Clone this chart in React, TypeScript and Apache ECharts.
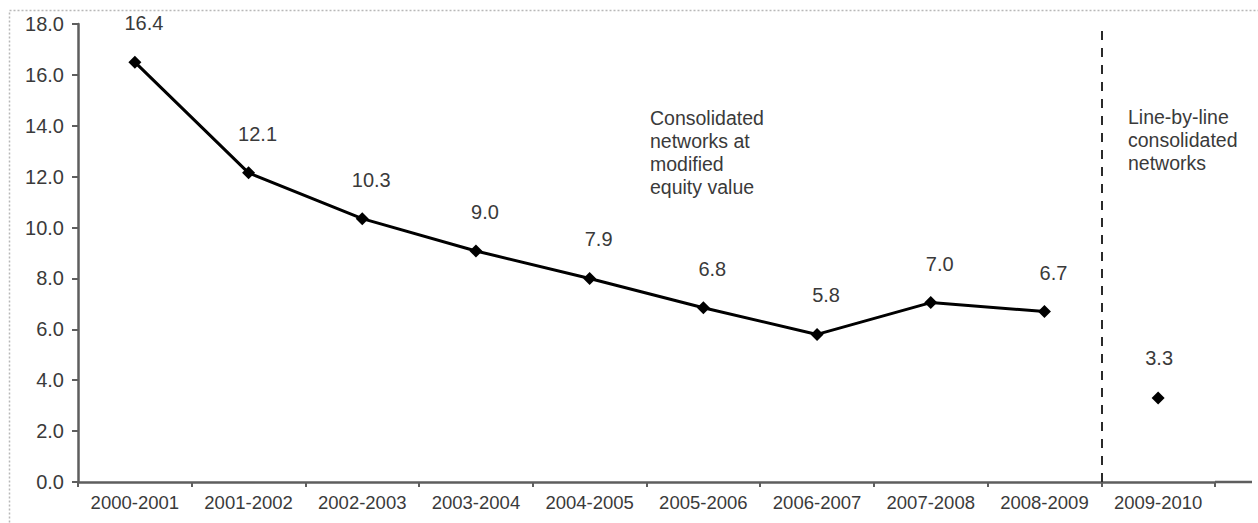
import React, { useEffect, useRef } from "react";
import * as echarts from "echarts";

const categories = [
  "2000-2001", "2001-2002", "2002-2003", "2003-2004", "2004-2005",
  "2005-2006", "2006-2007", "2007-2008", "2008-2009", "2009-2010",
];
const consolidatedValues = [16.5, 12.15, 10.35, 9.08, 8.0, 6.85, 5.8, 7.05, 6.7];
const consolidatedLabels = ["16.4", "12.1", "10.3", "9.0", "7.9", "6.8", "5.8", "7.0", "6.7"];
const lineByLineValue = 3.3;
const lineByLineLabel = "3.3";
const yTicks = { min: 0, max: 18, interval: 2 };
const separatorPosition = 9;
const annotationLeft = "Consolidated\nnetworks at\nmodified\nequity value";
const annotationRight = "Line-by-line\nconsolidated\nnetworks";

const FONT = "Liberation Sans, Arial, sans-serif";
const TEXT = "#3a3a3a";
const AXIS = "#5e5e5e";

export default function App() {
  const ref = useRef<HTMLDivElement>(null);
  useEffect(() => {
    if (!ref.current) return;
    const chart = echarts.init(ref.current, null, { renderer: "svg" });
    const mainData = categories.map((_, i) =>
      i < consolidatedValues.length ? consolidatedValues[i] : "-"
    );
    const lastData = categories.map((_, i) => (i === categories.length - 1 ? lineByLineValue : "-"));
    chart.setOption({
      animation: false,
      backgroundColor: "#ffffff",
      textStyle: { fontFamily: FONT },
      grid: { left: 78, right: 43, top: 24, bottom: 41, containLabel: false },
      xAxis: [
        {
          type: "category",
          data: categories,
          boundaryGap: true,
          axisLine: { lineStyle: { color: AXIS, width: 2.5 } },
          axisTick: { show: true, length: 5, interval: 0, lineStyle: { color: AXIS, width: 2 } },
          axisLabel: { interval: 0, color: TEXT, fontSize: 18.5, fontFamily: FONT, margin: 11 },
          splitLine: { show: false },
        },
        {
          type: "value",
          min: 0,
          max: categories.length,
          show: false,
          gridIndex: 0,
        },
      ],
      yAxis: {
        type: "value",
        min: yTicks.min,
        max: yTicks.max,
        interval: yTicks.interval,
        axisLine: { show: true, lineStyle: { color: AXIS, width: 2.5 } },
        axisTick: { show: true, length: 6, lineStyle: { color: AXIS, width: 2 } },
        axisLabel: {
          color: TEXT,
          fontSize: 20,
          fontFamily: FONT,
          margin: 14,
          formatter: (v: number) => v.toFixed(1),
        },
        splitLine: { show: false },
      },
      series: [
        {
          type: "line",
          data: mainData,
          xAxisIndex: 0,
          lineStyle: { color: "#000000", width: 3 },
          itemStyle: { color: "#000000" },
          symbol: "diamond",
          symbolSize: 13,
          showAllSymbol: true,
          label: {
            show: true,
            position: "inside",
            offset: [9, -39],
            color: TEXT,
            fontSize: 20,
            fontFamily: FONT,
            formatter: (p: any) => consolidatedLabels[p.dataIndex],
          },
        },
        {
          type: "line",
          data: lastData,
          xAxisIndex: 0,
          lineStyle: { width: 0 },
          itemStyle: { color: "#000000" },
          symbol: "diamond",
          symbolSize: 13,
          label: {
            show: true,
            position: "inside",
            offset: [1, -40],
            color: TEXT,
            fontSize: 20,
            fontFamily: FONT,
            formatter: () => lineByLineLabel,
          },
        },
        {
          type: "line",
          data: [],
          xAxisIndex: 1,
          markLine: {
            silent: true,
            symbol: ["none", "none"],
            label: { show: false },
            lineStyle: { color: "#2a2a2a", width: 2, type: [9, 8] },
            data: [[{ coord: [separatorPosition, 0] }, { coord: [separatorPosition, 17.8] }]],
          },
        },
      ],
      graphic: [
        {
          type: "rect",
          shape: { x: 9.5, y: 10.5, width: 1300, height: 600 },
          style: { fill: "none", stroke: "#b8b8b8", lineWidth: 1.5, lineDash: [2, 2] },
          silent: true,
        },
        {
          type: "line",
          shape: { x1: 1215, y1: 482, x2: 1252, y2: 482 },
          style: { stroke: AXIS, lineWidth: 2.5 },
          silent: true,
        },
        {
          type: "text",
          left: 650,
          top: 106,
          style: { text: annotationLeft, fill: TEXT, font: `19.5px ${FONT}`, lineHeight: 23 },
        },
        {
          type: "text",
          left: 1128,
          top: 105,
          style: { text: annotationRight, fill: TEXT, font: `19.5px ${FONT}`, lineHeight: 23 },
        },
      ],
    });
    return () => chart.dispose();
  }, []);
  return (
    <div
      ref={ref}
      style={{ position: "absolute", left: 0, top: 0, width: 1258, height: 523, background: "#fff" }}
    />
  );
}
